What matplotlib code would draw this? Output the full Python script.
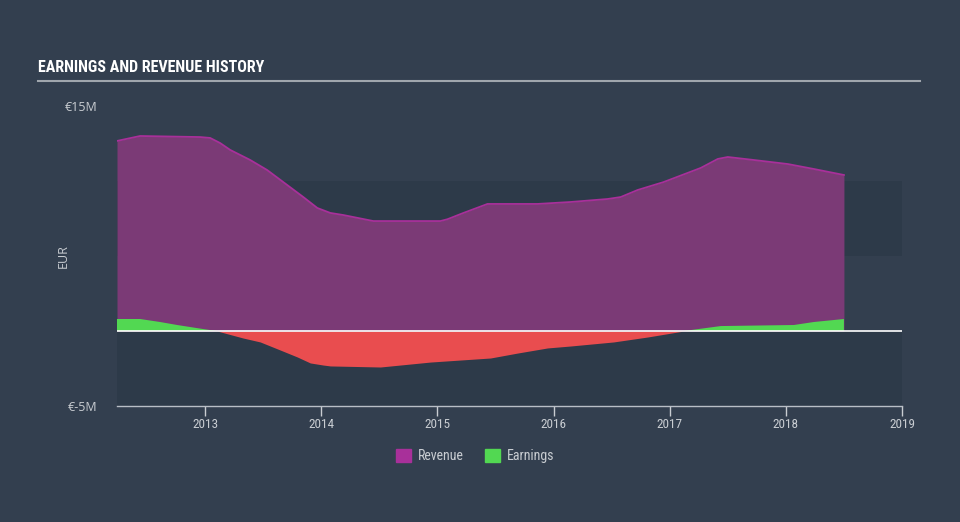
import matplotlib.pyplot as plt
from matplotlib import font_manager
from matplotlib.patches import Patch
from matplotlib.lines import Line2D

# revenue history (EUR millions), decimal years
rev_years = [2012.241, 2012.440, 2012.957, 2013.043, 2013.129, 2013.216, 2013.388, 2013.534,
             2013.707, 2013.845, 2013.966, 2014.078, 2014.190, 2014.448, 2015.026, 2015.086,
             2015.224, 2015.431, 2015.862, 2016.147, 2016.466, 2016.578, 2016.724, 2016.948,
             2017.267, 2017.414, 2017.500, 2017.724, 2018.017, 2018.241, 2018.500]
revenue = [12.67, 13.0, 12.93, 12.87, 12.53, 12.07, 11.4, 10.73,
           9.73, 8.93, 8.2, 7.87, 7.73, 7.33, 7.33, 7.45,
           7.87, 8.47, 8.47, 8.6, 8.8, 8.93, 9.4, 9.93,
           10.87, 11.47, 11.6, 11.4, 11.13, 10.8, 10.4]

# earnings history (EUR millions)
earn_years = [2012.241, 2012.440, 2012.612, 2012.759, 2012.983, 2013.103, 2013.328, 2013.474,
              2013.647, 2013.793, 2013.905, 2014.017, 2014.078, 2014.509, 2014.940, 2015.457,
              2015.690, 2015.948, 2016.147, 2016.517, 2016.810, 2017.121, 2017.440, 2018.069,
              2018.241, 2018.500]
earnings = [0.8, 0.8, 0.6, 0.4, 0.13, 0.0, -0.47, -0.73,
            -1.27, -1.73, -2.13, -2.27, -2.33, -2.4, -2.07, -1.8,
            -1.47, -1.13, -1.0, -0.73, -0.4, 0.0, 0.33, 0.4,
            0.6, 0.8]

x_ticks = [2013, 2014, 2015, 2016, 2017, 2018, 2019]
y_ticks = [-5, 15]
y_labels = ["€-5M", "€15M"]

BG = "#333f4f"
BAND = "#2d3a49"
TXT = "#c9cdd2"


def pick_font(candidates):
    names = {f.name for f in font_manager.fontManager.ttflist}
    for c in candidates:
        if c in names:
            return c
    return "DejaVu Sans"


def main() -> None:
    narrow = pick_font(["Liberation Sans Narrow", "Roboto Condensed", "DejaVu Sans"])
    fig = plt.figure(figsize=(9.6, 5.22), dpi=100, facecolor=BG)
    ax = fig.add_axes([117 / 960, 1 - 406 / 522, 785 / 960, 300 / 522])
    ax.set_facecolor(BG)

    ax.axhspan(-5, 0, color=BAND, lw=0, zorder=0)
    ax.axhspan(5, 10, color=BAND, lw=0, zorder=0)

    ax.fill_between(rev_years, 0, revenue, color="#7b3a76", lw=0, zorder=2)
    ax.plot(rev_years, revenue, color="#a8309a", lw=1.3, zorder=3,
            solid_joinstyle="round")

    ax.fill_between(earn_years, 0, earnings, where=[e >= 0 for e in earnings],
                    interpolate=True, color="#52d852", lw=0, zorder=4)
    ax.fill_between(earn_years, 0, earnings, where=[e <= 0 for e in earnings],
                    interpolate=True, color="#e94d4f", lw=0, zorder=4)
    ax.axhline(0, color="white", lw=1.2, zorder=5)

    ax.set_xlim(2012.241, 2019.0)
    ax.set_ylim(-5, 15)
    ax.set_xticks(x_ticks)
    ax.set_xticklabels([str(t) for t in x_ticks], family=narrow, fontsize=9.5)
    ax.set_yticks(y_ticks)
    ax.set_yticklabels(y_labels, family="Open Sans", fontsize=9)
    ax.tick_params(axis="x", colors=TXT, length=7, width=1, pad=2)
    ax.tick_params(axis="y", colors=TXT, length=0, pad=14)
    for s in ("top", "right", "left"):
        ax.spines[s].set_visible(False)
    ax.spines["bottom"].set_color("#b8bec6")
    ax.spines["bottom"].set_linewidth(1)
    ax.set_ylabel("EUR", color=TXT, fontsize=9, family="Open Sans")
    ax.yaxis.set_label_coords((70 - 117) / 785, 0.5)

    fig.text(38 / 960, 1 - 67 / 522, "EARNINGS AND REVENUE HISTORY", color="white",
             fontsize=11.5, fontweight="bold", family=narrow, va="center")
    fig.add_artist(Line2D([38 / 960, 920 / 960], [1 - 81 / 522] * 2, color="#a0a6ad", lw=1.5))

    handles = [Patch(color="#a8309a", label="Revenue"), Patch(color="#52d852", label="Earnings")]
    leg = fig.legend(handles=handles, loc="center", bbox_to_anchor=(475 / 960, 1 - 456 / 522),
                     ncol=2, frameon=False, handlelength=1.1, handleheight=1.1,
                     handletextpad=0.5, columnspacing=1.5,
                     prop={"family": narrow, "size": 10})
    for t in leg.get_texts():
        t.set_color(TXT)

    fig.savefig("out.png", dpi=100, facecolor=BG)
    plt.close(fig)


if __name__ == "__main__":
    main()
